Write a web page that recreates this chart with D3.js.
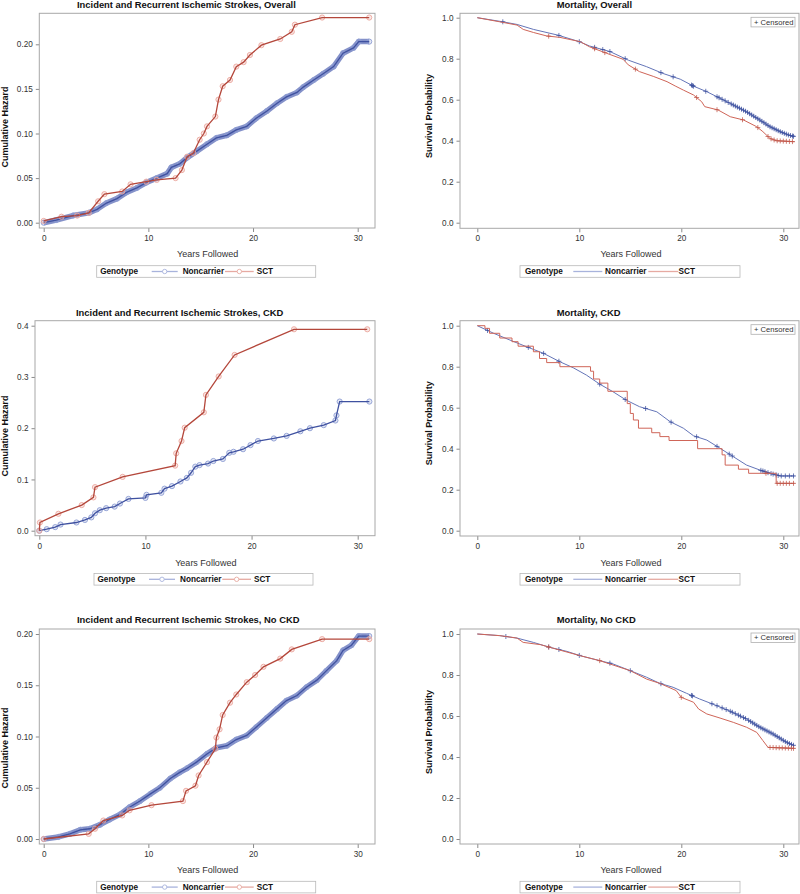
<!DOCTYPE html>
<html><head><meta charset="utf-8">
<script src="https://cdn.jsdelivr.net/npm/d3@7"></script>
<style>body{margin:0;background:#fff} svg{display:block}</style>
</head><body><svg id="c" width="800" height="894"></svg>
<script>
// ---------- DATA (years followed, value) ----------
const hazOverallNon = [[0,0],[1.2,0.003],[2.8,0.008],[4.3,0.011],[5.1,0.015],[6.0,0.022],[7.0,0.027],[7.9,0.034],[8.9,0.039],[9.8,0.045],[10.8,0.050],[11.8,0.055],[12.2,0.062],[13.0,0.066],[13.7,0.073],[14.6,0.080],[15.6,0.088],[16.5,0.095],[17.5,0.098],[18.4,0.104],[19.4,0.108],[20.3,0.117],[21.3,0.125],[22.3,0.134],[23.2,0.141],[24.2,0.146],[24.8,0.152],[25.8,0.160],[26.7,0.167],[27.7,0.175],[28.6,0.190],[29.6,0.196],[30.1,0.203],[31.1,0.203]];
const hazOverallSct = [[0,0.002],[1.7,0.0067],[3.2,0.008],[4.3,0.011],[5.2,0.024],[5.8,0.032],[7.5,0.035],[8.3,0.043],[9.8,0.046],[10.8,0.048],[12.6,0.050],[13.2,0.059],[13.7,0.074],[14.3,0.078],[14.9,0.093],[15.3,0.100],[15.6,0.108],[16.4,0.119],[16.7,0.138],[17.1,0.153],[17.8,0.160],[18.4,0.175],[19.1,0.180],[19.7,0.188],[20.8,0.199],[22.6,0.206],[23.7,0.214],[24.0,0.222],[26.6,0.230],[31.1,0.230]];
const hazCkdNon = [[0,0],[0.7,0.003],[1.5,0.007],[2.0,0.012],[3.5,0.016],[4.3,0.021],[4.9,0.026],[5.25,0.034],[5.7,0.040],[6.3,0.044],[7.1,0.047],[7.6,0.053],[8.4,0.062],[10.0,0.064],[10.1,0.070],[11.5,0.074],[11.8,0.082],[12.5,0.087],[13.3,0.096],[13.9,0.103],[14.3,0.113],[14.7,0.125],[15.1,0.128],[15.9,0.131],[16.4,0.136],[17.3,0.140],[17.9,0.152],[18.3,0.154],[19.2,0.159],[19.9,0.167],[20.6,0.175],[22.1,0.180],[23.3,0.185],[24.6,0.194],[25.5,0.200],[26.8,0.206],[27.9,0.215],[28.0,0.225],[28.3,0.252],[31.1,0.252]];
const hazCkdSct = [[0,0],[0.06,0.016],[1.8,0.033],[4.0,0.050],[5.1,0.065],[5.25,0.085],[7.85,0.105],[12.8,0.127],[12.9,0.151],[13.4,0.175],[13.7,0.201],[15.5,0.231],[15.7,0.265],[16.9,0.301],[18.4,0.343],[24.0,0.393],[30.9,0.393]];
const hazNoCkdNon = [[0,0],[1.4,0.002],[2.5,0.005],[3.5,0.009],[4.4,0.010],[5.4,0.014],[6.3,0.019],[7.3,0.024],[8.2,0.031],[9.2,0.037],[10.2,0.044],[11.1,0.050],[12.1,0.059],[13.0,0.065],[13.7,0.069],[14.6,0.075],[15.6,0.083],[16.5,0.089],[17.5,0.091],[18.4,0.097],[19.4,0.101],[20.3,0.109],[21.3,0.118],[22.3,0.127],[23.2,0.135],[24.2,0.140],[25.1,0.148],[26.1,0.155],[27.0,0.164],[28.0,0.174],[28.6,0.184],[29.4,0.189],[30.1,0.198],[31.1,0.198]];
const hazNoCkdSct = [[0,0],[4.3,0.005],[4.9,0.010],[5.7,0.018],[7.5,0.023],[8.2,0.028],[10.3,0.033],[13.3,0.037],[13.6,0.047],[14.5,0.052],[14.8,0.062],[15.6,0.075],[16.4,0.088],[16.5,0.099],[16.8,0.107],[17.1,0.121],[17.8,0.133],[18.4,0.141],[19.4,0.153],[20.2,0.160],[21.0,0.168],[22.6,0.176],[23.7,0.185],[26.6,0.195],[31.1,0.195]];

const survOverallNon = [[0,1.0],[2.5,0.98],[3.9,0.967],[5.5,0.943],[7.9,0.915],[10.0,0.883],[11.0,0.862],[13.0,0.835],[14.8,0.793],[16.6,0.761],[18.2,0.728],[19.9,0.700],[21.2,0.666],[22.5,0.639],[23.8,0.607],[25.1,0.574],[26.4,0.541],[27.7,0.501],[28.7,0.468],[29.7,0.444],[30.5,0.428],[31.1,0.42]];
const survOverallSct = [[0,1.0],[2.2,0.98],[3.9,0.964],[4.5,0.943],[5.5,0.928],[6.8,0.911],[8.1,0.904],[10.1,0.883],[11.0,0.858],[12.7,0.826],[14.3,0.797],[14.8,0.770],[15.9,0.737],[17.3,0.713],[18.6,0.688],[19.4,0.667],[20.2,0.647],[21.2,0.623],[22.0,0.590],[22.3,0.566],[23.6,0.550],[24.8,0.517],[26.1,0.501],[27.4,0.468],[28.0,0.444],[28.7,0.411],[29.3,0.400],[31.1,0.395]];
const survCkdNon = [[0,1.0],[1.6,0.963],[3.2,0.93],[4.8,0.898],[6.5,0.865],[8.1,0.824],[9.4,0.795],[10.7,0.759],[12.0,0.715],[13.3,0.678],[14.6,0.637],[15.9,0.605],[17.6,0.580],[18.9,0.532],[20.2,0.50],[21.2,0.463],[22.5,0.442],[23.8,0.402],[25.1,0.361],[26.4,0.32],[27.7,0.296],[28.7,0.28],[29.7,0.267],[31.1,0.267]];
const survCkdSct = [[0,1.0],[0.75,0.987],[1.2,0.963],[2.2,0.94],[3.4,0.922],[4.0,0.90],[5.5,0.873],[6.1,0.84],[6.8,0.82],[8.1,0.80],[11.1,0.778],[11.4,0.74],[12.0,0.72],[12.8,0.68],[14.7,0.62],[15.0,0.572],[15.3,0.54],[15.8,0.50],[17.1,0.478],[17.9,0.459],[18.8,0.44],[21.6,0.40],[24.0,0.37],[24.3,0.32],[25.6,0.30],[26.6,0.28],[29.3,0.231],[31.1,0.231]];
const survNoCkdNon = [[0,1.0],[2.2,0.992],[3.9,0.98],[5.5,0.959],[7.1,0.935],[8.8,0.915],[10.1,0.894],[12.0,0.87],[13.3,0.854],[15.0,0.821],[16.6,0.789],[17.9,0.759],[19.2,0.74],[20.5,0.711],[21.8,0.683],[23.5,0.65],[24.8,0.623],[26.4,0.585],[27.7,0.545],[29.0,0.512],[30.3,0.472],[31.1,0.455]];
const survNoCkdSct = [[0,1.0],[2.2,0.992],[3.9,0.98],[4.5,0.959],[6.2,0.948],[7.1,0.935],[10.1,0.894],[12.0,0.87],[15.0,0.821],[16.6,0.78],[17.9,0.759],[19.5,0.724],[20.0,0.691],[21.2,0.667],[21.7,0.634],[22.5,0.61],[23.8,0.59],[25.1,0.569],[26.4,0.545],[27.4,0.52],[28.0,0.48],[28.5,0.447],[31.1,0.442]];

// censoring times
const censOverallNon = [2.5,8.0,10.0,11.5,12.3,13.0,14.5,18.0,19.2,21.0,21.1,21.2,22.4,23.5,23.7,24.0,24.3,24.6,24.9,25.1,25.3,25.5,25.7,25.9,26.1,26.3,26.5,26.7,26.9,27.1,27.3,27.5,27.7,27.9,28.1,28.3,28.5,28.7,28.9,29.1,29.3,29.5,29.7,29.9,30.1,30.3,30.5,30.7,30.9,31.0];
const censOverallSct = [7.0,11.5,12.5,15.5,21.5,23.5,26.0,27.5,28.5,28.8,29.1,29.4,29.7,30.0,30.3,30.6,30.9];
const censCkdNon = [1.0,5.0,6.5,8.0,12.0,14.5,16.5,19.0,21.5,23.5,24.7,25.0,27.8,28.0,28.2,28.5,28.8,29.0,29.3,29.5,29.8,30.2,30.6,31.0];
const censCkdSct = [28.3,29.4,29.7,30.0,30.3,30.6,31.0];
const censNoCkdNon = [2.8,7.0,8.0,10.0,13.0,15.0,18.0,21.0,21.1,23.0,23.5,24.0,24.4,24.8,25.0,25.3,25.6,25.8,26.1,26.3,26.6,26.8,27.0,27.2,27.4,27.6,27.8,28.0,28.2,28.4,28.6,28.8,29.0,29.2,29.4,29.6,29.8,30.0,30.2,30.4,30.6,30.8,31.0];
const censNoCkdSct = [7.0,12.0,20.0,28.7,29.0,29.3,29.6,29.9,30.2,30.5,30.8,31.0];

const xTicks = [0,10,20,30];
const hazTicks2 = [0,0.05,0.10,0.15,0.20];
const hazTicks4 = [0,0.1,0.2,0.3,0.4];
const survTicks = [0,0.2,0.4,0.6,0.8,1.0];
const groups = ["Noncarrier","SCT"];
const titles = ["Incident and Recurrent Ischemic Strokes, Overall","Mortality, Overall",
  "Incident and Recurrent Ischemic Strokes, CKD","Mortality, CKD",
  "Incident and Recurrent Ischemic Strokes, No CKD","Mortality, No CKD"];

// ---------- LAYOUT ----------
const FONT = "'Liberation Sans', Arial, sans-serif";
const C = {
  nonLine:"#3f51a0", sctLine:"#b4473b",
  nonMark:"#8f9ed4", sctMark:"#eba79e",
  nonBand:"#6576bb",
  nonSurv:"#6475b8", sctSurv:"#cf6558",
  nonCens:"#3a4d9e", sctCens:"#c0564a",
  nonLeg:"#a8b3dc", sctLeg:"#e6aaa2"
};
const panels = [
  {type:"haz", title:titles[0], data:[hazOverallNon,hazOverallSct], band:true, ticks:hazTicks2, fmt:".2f",
   x0:43.7,x30:357.7,y0:222.7,yT:44.3, fr:[39.3,13.3,375,228], tX:77, tY:8.3, ylX:8, ylY:127, xlX:207.7, xlY:257.3, leg:[96.7,265.7]},
  {type:"surv", title:titles[1], data:[survOverallNon,survOverallSct], cens:[censOverallNon,censOverallSct], ticks:survTicks, fmt:".1f",
   x0:477.3,x30:783.3,y0:222.7,yT:17.7, fr:[460,13.3,799,228.3], tX:556.7, tY:8.3, ylX:431.5, ylY:116, xlX:631, xlY:257.3, leg:[520,265.7]},
  {type:"haz", title:titles[2], data:[hazCkdNon,hazCkdSct], band:false, ticks:hazTicks4, fmt:".1f",
   x0:39.3,x30:357.7,y0:530.7,yT:325.7, fr:[35,320.7,375,535.7], tX:76, tY:315.7, ylX:8, ylY:436, xlX:205.8, xlY:565.5, leg:[94,573.5]},
  {type:"surv", title:titles[3], data:[survCkdNon,survCkdSct], cens:[censCkdNon,censCkdSct], ticks:survTicks, fmt:".1f",
   x0:477.3,x30:783.3,y0:530.7,yT:325.7, fr:[460,320.7,799,536], tX:556.7, tY:315.7, ylX:431.5, ylY:423.3, xlX:631, xlY:565.5, leg:[520,573.5]},
  {type:"haz", title:titles[4], data:[hazNoCkdNon,hazNoCkdSct], band:true, ticks:hazTicks2, fmt:".2f",
   x0:43.7,x30:357.7,y0:839,yT:634, fr:[39.3,629,375,844], tX:77, tY:623.3, ylX:8, ylY:748, xlX:207.7, xlY:873.3, leg:[96.7,881.3]},
  {type:"surv", title:titles[5], data:[survNoCkdNon,survNoCkdSct], cens:[censNoCkdNon,censNoCkdSct], ticks:survTicks, fmt:".1f",
   x0:477.3,x30:783.3,y0:839,yT:634, fr:[460,629,799,844], tX:556.7, tY:623.3, ylX:431.5, ylY:732, xlX:631, xlY:873.3, leg:[520,881.3]}
];

const svg = d3.select("#c").style("font-family", FONT);

function interp(series, t){
  const i = d3.bisector(d=>d[0]).right(series, t);
  if (i<=0) return series[0][1];
  if (i>=series.length) return series[series.length-1][1];
  const a = series[i-1], b = series[i];
  return a[1] + (b[1]-a[1])*(t-a[0])/(b[0]-a[0]);
}

panels.forEach((p, pi) => {
  const g = svg.append("g");
  const x = d3.scaleLinear().domain([0,30]).range([p.x0,p.x30]);
  const y = d3.scaleLinear().domain([0, p.ticks[p.ticks.length-1]]).range([p.y0,p.yT]);
  const [fl,ft,fr,fb] = p.fr;

  g.append("text").attr("x",p.tX).attr("y",p.tY).attr("font-size",9.4).attr("font-weight","bold")
    .attr("fill","#111").text(p.title);

  const ax = g.append("g").attr("transform",`translate(0,${fb})`)
    .call(d3.axisBottom(x).tickValues(xTicks).tickFormat(d3.format("d")).tickSize(4).tickPadding(3));
  const ay = g.append("g").attr("transform",`translate(${fl},0)`)
    .call(d3.axisLeft(y).tickValues(p.ticks).tickFormat(d3.format(p.fmt)).tickSize(3.5).tickPadding(3));
  [ax,ay].forEach(a=>{
    a.select(".domain").remove();
    a.selectAll("line").attr("stroke","#8a8a8a");
    a.selectAll("text").attr("fill","#333").attr("font-size",8.2).attr("font-family",FONT);
  });

  g.append("rect").attr("x",fl).attr("y",ft).attr("width",fr-fl).attr("height",fb-ft)
    .attr("fill","none").attr("stroke","#a8a8a8").attr("stroke-width",1);

  g.append("text").attr("x",p.xlX).attr("y",p.xlY).attr("text-anchor","middle").attr("font-size",9)
    .attr("fill","#333").text("Years Followed");
  g.append("text").attr("transform",`translate(${p.ylX},${p.ylY}) rotate(-90)`).attr("text-anchor","middle")
    .attr("font-size",9).attr("font-weight","bold").attr("fill","#111")
    .text(p.type==="haz" ? "Cumulative Hazard" : "Survival Probability");

  const plot = g.append("g");
  if (p.type==="haz") {
    const line = d3.line().x(d=>x(d[0])).y(d=>y(d[1]));
    p.data.forEach((s, si) => {
      const lc = si===0 ? C.nonLine : C.sctLine;
      const mc = si===0 ? C.nonMark : C.sctMark;
      if (si===0 && p.band) {
        plot.append("path").attr("d",line(s)).attr("fill","none").attr("stroke",C.nonBand)
          .attr("stroke-width",5.5).attr("stroke-opacity",0.8).attr("stroke-linejoin","round");
      }
      plot.selectAll(null).data(s).enter().append("circle")
        .attr("cx",d=>x(d[0])).attr("cy",d=>y(d[1])).attr("r",2.6)
        .attr("fill", mc).attr("fill-opacity",0.25).attr("stroke",mc).attr("stroke-width",0.9);
      plot.append("path").attr("d",line(s)).attr("fill","none").attr("stroke",lc).attr("stroke-width",1.3);
    });
  } else {
    p.data.forEach((s, si) => {
      const lc = si===0 ? C.nonSurv : C.sctSurv;
      const cc = si===0 ? C.nonCens : C.sctCens;
      const stepped = (pi===3 && si===1);
      const line = d3.line().x(d=>x(d[0])).y(d=>y(d[1])).curve(stepped ? d3.curveStepAfter : d3.curveLinear);
      plot.append("path").attr("d",line(s)).attr("fill","none").attr("stroke",lc).attr("stroke-width",1);
      plot.selectAll(null).data(p.cens[si]).enter().append("path")
        .attr("d", t => {
          const cx = x(t), cy = y(stepped ? s[Math.max(0,d3.bisector(d=>d[0]).right(s,t)-1)][1] : interp(s,t));
          return `M${cx-2.5},${cy}H${cx+2.5}M${cx},${cy-2.5}V${cy+2.5}`;
        })
        .attr("stroke",cc).attr("stroke-width",1).attr("stroke-opacity",0.75);
    });
    const bx = 751, by = ft+4;
    g.append("rect").attr("x",bx).attr("y",by).attr("width",44).attr("height",9.6)
      .attr("fill","#fff").attr("stroke","#b0b0b0").attr("stroke-width",0.8);
    g.append("text").attr("x",bx+3).attr("y",by+7.4).attr("font-size",7.6).attr("fill","#333").text("+ Censored");
  }

  const [lx,ly] = p.leg;
  const L = g.append("g").attr("transform",`translate(${lx},${ly})`);
  const isHaz = p.type==="haz";
  const lw = isHaz ? 219 : 220;
  L.append("rect").attr("width",lw).attr("height",11.6).attr("fill","#fff").attr("stroke","#b8b8b8").attr("stroke-width",0.8);
  const tb = 8.6;
  L.append("text").attr("x",isHaz?3.5:5).attr("y",tb).attr("font-size",8.2).attr("font-weight","bold").attr("fill","#111").text("Genotype");
  const segs = isHaz ? [[55,81],[128.3,157]] : [[53.3,82.3],[128.3,158.3]];
  const labx = isHaz ? [86,160] : [85,158.6];
  groups.forEach((gname, gi) => {
    const col = gi===0 ? C.nonLeg : C.sctLeg;
    L.append("line").attr("x1",segs[gi][0]).attr("x2",segs[gi][1]).attr("y1",5.8).attr("y2",5.8)
      .attr("stroke",col).attr("stroke-width",1.3);
    if (isHaz) L.append("circle").attr("cx",(segs[gi][0]+segs[gi][1])/2).attr("cy",5.8).attr("r",2.2)
      .attr("fill","#fff").attr("stroke",col).attr("stroke-width",0.9);
    L.append("text").attr("x",labx[gi]).attr("y",tb).attr("font-size",8.2).attr("font-weight","bold").attr("fill","#111").text(gname);
  });
});
</script></body></html>
